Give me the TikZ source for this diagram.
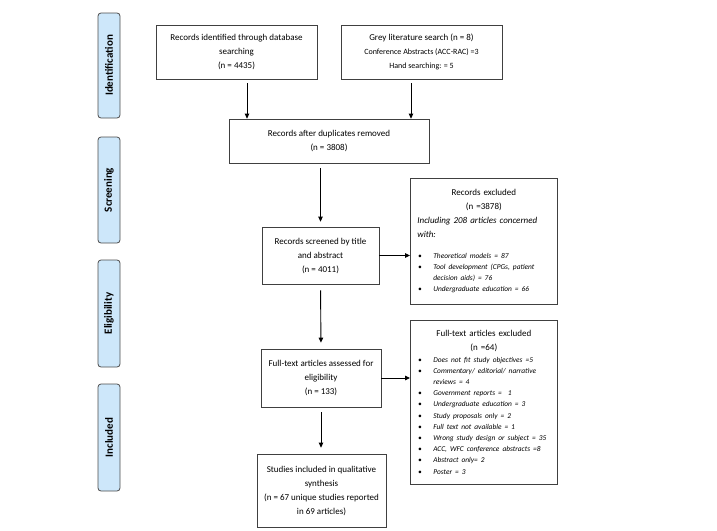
\documentclass[tikz,border=0pt]{standalone}
\usepackage{fontspec}
\setmainfont{Carlito}
\usepackage{enumitem}
\setlist[itemize]{label=\textbullet, leftmargin=16pt, labelsep=11.5pt, topsep=0pt, itemsep=0pt, parsep=0pt, partopsep=0pt}
\usetikzlibrary{arrows.meta, calc, positioning}
\definecolor{phaseblue}{HTML}{CDE7FA}

\begin{document}
\begin{tikzpicture}[x=1pt, y=-1pt,
  box/.style={draw=black!75, line width=0.7pt, align=center, inner sep=2pt, font=\fontsize{9}{14}\selectfont},
  listbox/.style={box, align=left, anchor=north west, text width=133pt, inner xsep=7pt, minimum height=#1},
  phase/.style={draw=black!70, line width=0.8pt, fill=phaseblue, rounded corners=3pt, rotate=90, minimum height=22pt, font=\fontsize{11}{12}\selectfont\bfseries},
  arr/.style={-{Triangle[length=5pt,width=4.5pt]}, line width=0.9pt}]
\useasboundingbox (0,0) rectangle (717,530);

\foreach \name/\y/\len in {Identification/65.5/105, Screening/190/106, Eligibility/313.5/107, Included/437.5/107}
  \node[phase, minimum width=\len pt] (ph-\name) at (109,\y) {\name};

\node[box, minimum width=161pt, minimum height=54pt] (db) at (236.5,52) {Records identified through database\\searching\\(n = 4435)};
\node[box, minimum width=161pt, minimum height=54pt] (grey) at (421.5,52) {Grey literature search (n = 8)\\{\fontsize{8}{12}\selectfont Conference Abstracts (ACC-RAC) =3}\\{\fontsize{8}{12}\selectfont Hand searching: = 5}};
\node[box, minimum width=200pt, minimum height=44pt] (dup) at (329,141) {Records after duplicates removed\\(n = 3808)};
\node[box, minimum width=117pt, minimum height=57pt] (screen) at (320.5,255.5) {Records screened by title\\and abstract\\(n = 4011)};
\node[box, minimum width=120pt, minimum height=58pt] (full) at (321,378) {Full-text articles assessed for\\eligibility\\(n = 133)};
\node[box, minimum width=129pt, minimum height=73pt] (incl) at (321.5,490.5) {Studies included in qualitative\\synthesis\\(n = 67 unique studies reported\\in 69 articles)};

\node[listbox=126pt] (excl) at (410,178) {%
  {\centering Records excluded\\(n =3878)\par}
  {\raggedright\itshape Including 208 articles concerned\\with:\par}
  \vspace{9pt}
  {\fontsize{7.4}{11.2}\selectfont\itshape\raggedright
  \begin{itemize}
    \item Theoretical models = 87
    \item Tool development (CPGs, patient\\decision aids) = 76
    \item Undergraduate education = 66
  \end{itemize}}};

\node[listbox=164pt] (ftex) at (410,320) {%
  {\centering Full-text articles excluded\\(n =64)\par}
  {\fontsize{7.4}{11.2}\selectfont\itshape\raggedright
  \begin{itemize}
    \item Does not fit study objectives =5
    \item Commentary/ editorial/ narrative\\reviews = 4
    \item Government reports =~~1
    \item Undergraduate education = 3
    \item Study proposals only = 2
    \item Full text not available = 1
    \item Wrong study design or subject = 35
    \item ACC, WFC conference abstracts =8
    \item Abstract only= 2
    \item Poster = 3
  \end{itemize}}};

\draw[arr, shorten <=4pt] ([xshift=10.5pt]db.south) -- ([xshift=10.5pt]db.south |- dup.north);
\draw[arr, shorten <=4pt] ([xshift=-10.5pt]grey.south) -- ([xshift=-10.5pt]grey.south |- dup.north);
\draw[arr, shorten <=5pt, shorten >=5pt] (dup.south -| screen.north) -- (screen.north);
\draw[arr] (screen.east) -- (screen.east -| excl.west);
\draw[arr, shorten <=6pt, shorten >=6pt] (screen.south) -- (full.north);
\draw[arr] (full.east) -- (full.east -| ftex.west);
\draw[arr, shorten <=5pt, shorten >=6pt] (full.south) -- (full.south |- incl.north);
\end{tikzpicture}
\end{document}
